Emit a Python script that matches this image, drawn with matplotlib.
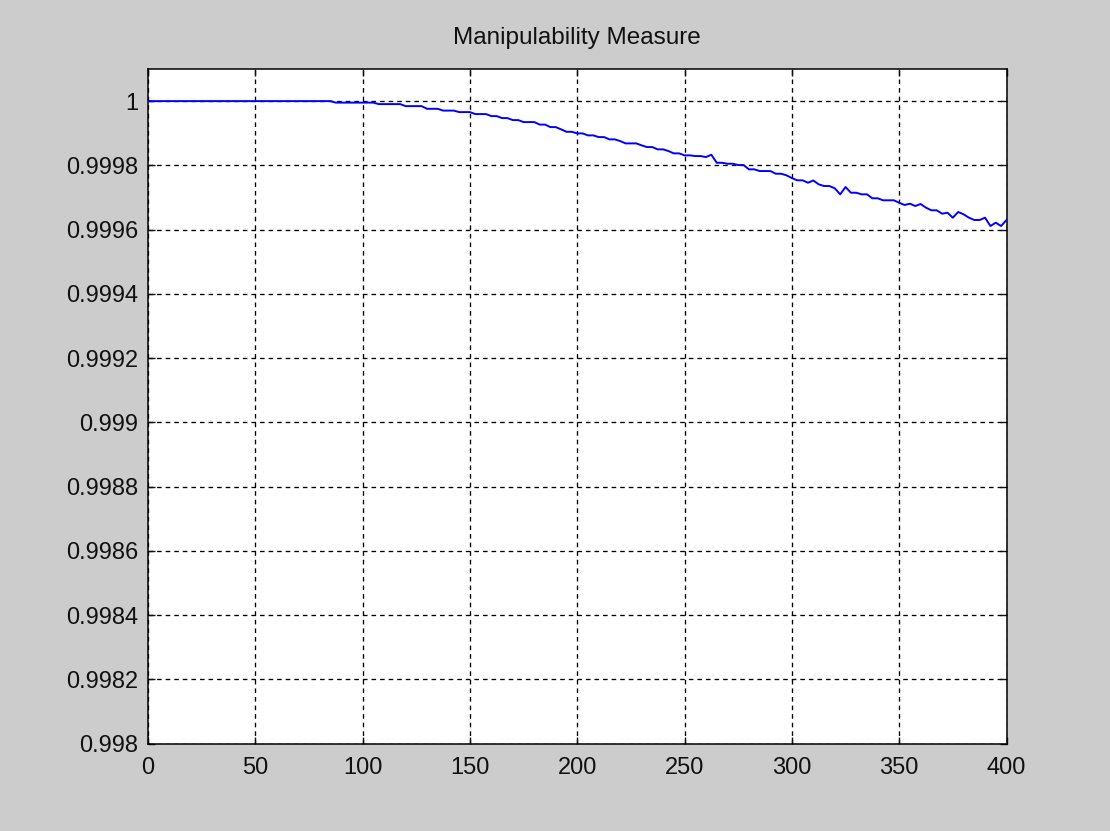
import matplotlib
matplotlib.use("Agg")
import matplotlib.pyplot as plt
import numpy as np

title = "Manipulability Measure"
x_step = 2.5
values = [1.0] * 35 + [
    0.9999953, 0.9999953, 0.9999953, 0.9999953, 0.9999953, 0.9999953, 0.9999953, 0.9999953,
    0.9999907, 0.9999907, 0.9999907, 0.9999907, 0.9999907,
    0.9999844, 0.9999844, 0.9999844, 0.9999844,
    0.9999761, 0.9999761, 0.9999761,
    0.9999705, 0.9999705, 0.9999705,
    0.9999658, 0.9999658, 0.9999658,
    0.9999596, 0.9999596, 0.9999596,
    0.9999533, 0.9999533,
    0.9999471, 0.9999471,
    0.9999409, 0.9999409,
    0.9999347, 0.9999347, 0.9999347,
    0.9999269, 0.9999269,
    0.9999191, 0.9999191,
    0.9999120, 0.9999045, 0.9999045,
    0.9998995, 0.9998995,
    0.9998933, 0.9998933,
    0.9998880, 0.9998880,
    0.9998809, 0.9998809,
    0.9998756, 0.9998684, 0.9998684, 0.9998684,
    0.9998622, 0.9998569, 0.9998569,
    0.9998498, 0.9998498,
    0.9998445, 0.9998373, 0.9998373,
    0.9998311, 0.9998311,
    0.9998289, 0.9998289,
    0.9998258, 0.9998330,
    0.9998081, 0.9998081,
    0.9998050, 0.9998050,
    0.9998010, 0.9998010,
    0.9997876, 0.9997876,
    0.9997823, 0.9997823, 0.9997823,
    0.9997739, 0.9997739,
    0.9997689, 0.9997605,
    0.9997534, 0.9997534,
    0.9997459, 0.9997528,
    0.9997409, 0.9997356, 0.9997356,
    0.9997285, 0.9997098, 0.9997325,
    0.9997148, 0.9997148,
    0.9997098, 0.9997098,
    0.9996974, 0.9996974,
    0.9996912, 0.9996912, 0.9996912,
    0.9996837, 0.9996766, 0.9996806, 0.9996734, 0.9996797,
    0.9996682, 0.9996601, 0.9996601,
    0.9996495, 0.9996526, 0.9996371, 0.9996548, 0.9996476,
    0.9996371, 0.9996299, 0.9996299, 0.9996371,
    0.9996112, 0.9996215, 0.9996112, 0.9996299,
]
x = np.arange(len(values)) * x_step

x_ticks = [0, 50, 100, 150, 200, 250, 300, 350, 400]
y_ticks = [0.998, 0.9982, 0.9984, 0.9986, 0.9988, 0.999,
           0.9992, 0.9994, 0.9996, 0.9998, 1.0]
y_tick_labels = ["0.998", "0.9982", "0.9984", "0.9986", "0.9988", "0.999",
                 "0.9992", "0.9994", "0.9996", "0.9998", "1"]

plt.rcParams['font.family'] = ['Liberation Sans', 'DejaVu Sans']

fig = plt.figure(figsize=(11.1, 8.31), dpi=100, facecolor="#cccccc")
ax = fig.add_axes([148 / 1110, 1 - 743.5 / 831, (1006.5 - 148) / 1110, (743.5 - 69) / 831])
ax.set_facecolor("white")

ax.plot(x, values, color=(0, 0, 1), lw=1.4, zorder=3)

ax.set_xlim(0, 400)
ax.set_ylim(0.998, 1.0001)
ax.set_xticks(x_ticks)
ax.set_xticklabels([str(t) for t in x_ticks])
ax.set_yticks(y_ticks)
ax.set_yticklabels(y_tick_labels)

ax.grid(True, color="black", linestyle=(0, (3.5, 3)), linewidth=0.95, zorder=1)
ax.set_axisbelow(True)

for s in ax.spines.values():
    s.set_linewidth(1.1)
    s.set_color("black")

ax.tick_params(direction="in", length=5, width=1.0, top=True, right=True,
               labelsize=17, colors="#111111")
ax.tick_params(axis="x", pad=10)
ax.tick_params(axis="y", pad=7)

ax.set_title(title, fontsize=17.5, pad=18, color="#111111")

fig.savefig("out.png", dpi=100, facecolor=fig.get_facecolor())
